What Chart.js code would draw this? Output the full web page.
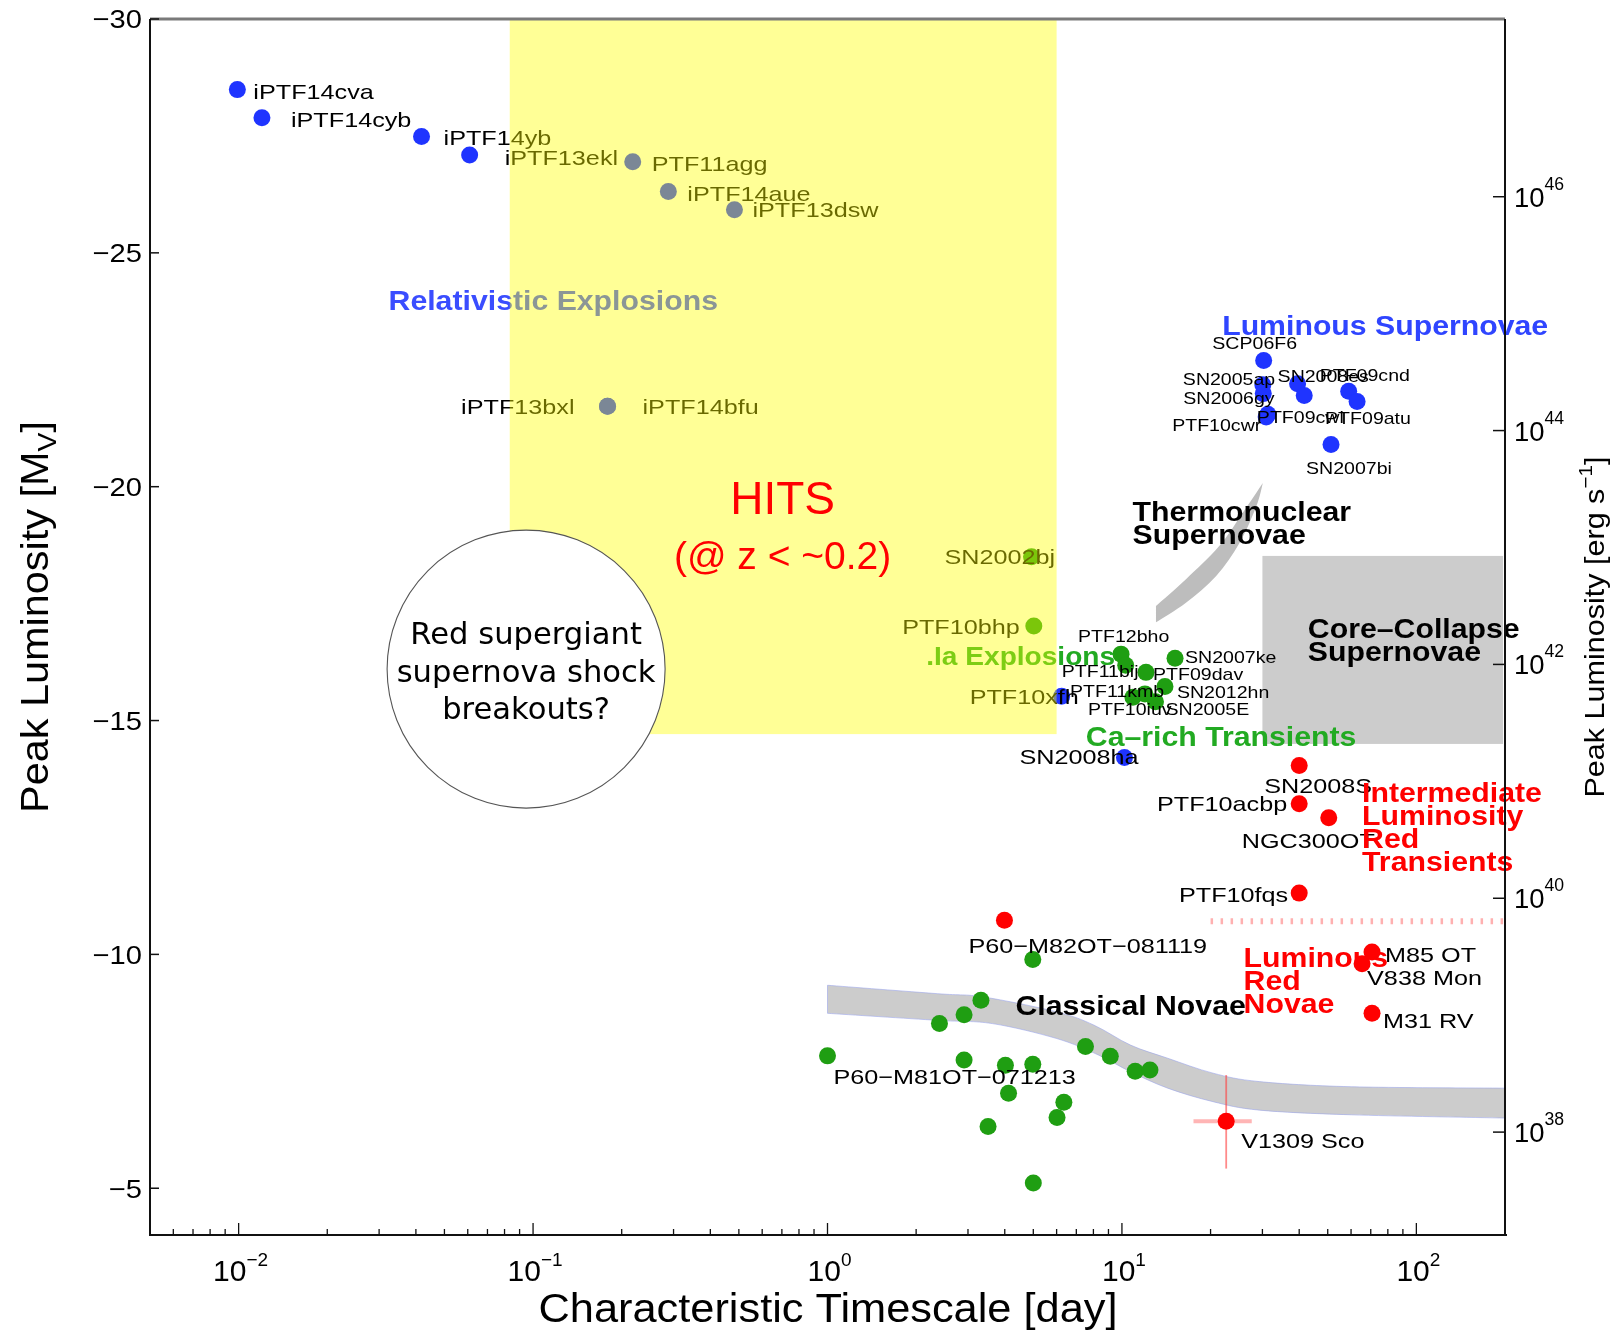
<!DOCTYPE html>
<html>
<head>
<meta charset="utf-8">
<title>Transient phase space</title>
<script src="https://cdn.jsdelivr.net/npm/chart.js@4.4.1/dist/chart.umd.min.js"></script>
<style>
  html, body { margin: 0; padding: 0; background: #fff; }
  #wrap { width: 1624px; height: 1334px; }
</style>
</head>
<body>
<div id="wrap"><canvas id="c" width="1624" height="1334"></canvas></div>
<script>
// ---------------- data: characteristic timescale [day] and peak M_V ----------------
const relNames = ['iPTF14cva', 'iPTF14cyb', 'iPTF14yb', 'iPTF13ekl', 'PTF11agg', 'iPTF14aue', 'iPTF13dsw', 'iPTF13bxl', 'iPTF14bfu'];
const relTime  = [0.0099, 0.0120, 0.0418, 0.0609, 0.218, 0.288, 0.483, 0.179, 0.179];
const relMag   = [-28.49, -27.89, -27.49, -27.09, -26.95, -26.31, -25.92, -21.72, -21.72];

const slsnNames = ['SCP06F6', 'SN2005ap', 'SN2006gy', 'PTF10cwr', 'PTF09cwl', 'SN2008es', '', 'PTF09cnd', 'PTF09atu', 'SN2007bi'];
const slsnTime  = [30.3, 30.1, 30.2, 30.9, 31.3, 39.5, 41.6, 58.9, 62.9, 51.3];
const slsnMag   = [-22.70, -22.18, -21.99, -21.49, -21.55, -22.20, -21.95, -22.04, -21.82, -20.90];

const fastBlueNames = ['PTF10xfh', 'SN2008ha'];
const fastBlueTime  = [6.24, 10.2];
const fastBlueMag   = [-15.52, -14.21];

const fastGreenNames = ['SN2002bj', 'PTF10bhp'];
const fastGreenTime  = [4.93, 5.02];
const fastGreenMag   = [-18.50, -17.02];

const caNames = ['PTF12bho', 'PTF11bij', 'PTF09dav', 'SN2007ke', 'SN2012hn', 'PTF11kmb', 'PTF10iuv', 'SN2005E'];
const caTime  = [9.93, 10.3, 12.07, 15.15, 14.0, 10.9, 11.97, 13.0];
const caMag   = [-16.42, -16.18, -16.03, -16.33, -15.73, -15.50, -15.57, -15.40];

const novaNames = ['', '', '', '', 'P60−M81OT−071213', '', '', '', '', '', '', '', '', '', '', '', ''];
const novaTime  = [4.98, 3.32, 2.91, 2.40, 1.00, 2.91, 4.02, 4.98, 7.52, 9.13, 11.09, 12.45, 4.12, 6.35, 6.02, 3.51, 5.00];
const novaMag   = [-9.89, -9.02, -8.71, -8.52, -7.83, -7.74, -7.63, -7.65, -8.03, -7.82, -7.50, -7.53, -7.03, -6.84, -6.51, -6.32, -5.11];

const redNames = ['SN2008S', 'PTF10acbp', 'NGC300OT', 'PTF10fqs', 'P60−M82OT−081119', 'M85 OT', 'V838 Mon', 'M31 RV', 'V1309 Sco'];
const redTime  = [40.0, 40.0, 50.4, 40.0, 3.99, 70.7, 65.4, 70.7, 22.6];
const redMag   = [-14.04, -13.22, -12.92, -11.31, -10.73, -10.05, -9.80, -8.74, -6.43];

// V1309 Sco uncertainty ranges
const v1309TimeRange = [17.5, 27.6];
const v1309MagRange  = [-7.42, -5.42];

// class regions
const hitsTime = [2 / 24, 6];
const hitsMag  = [-30, -14.71];
const ccTime   = [30, 197];
const ccMag    = [-18.52, -14.50];
const thermoUpper = [[13.05, -17.45], [16.5, -18.02], [21.4, -18.73], [25.7, -19.44], [30.1, -20.08]];
const thermoLower = [[30.1, -20.08], [28.6, -19.58], [25.1, -18.80], [20.9, -18.09], [16.5, -17.52], [13.05, -17.10]];
const novaUpper = [[1.0, -9.34], [2.36, -9.16], [3.38, -9.09], [6.01, -8.77], [8.02, -8.49], [10.7, -8.06], [14.3, -7.78], [20.4, -7.46], [29.3, -7.28], [60.1, -7.17], [200, -7.14]];
const novaLower = [[1.0, -8.74], [2.36, -8.59], [3.63, -8.52], [6.01, -8.20], [8.31, -7.85], [10.7, -7.49], [14.3, -7.14], [20.4, -6.85], [29.3, -6.67], [60.1, -6.57], [200, -6.50]];
const ilrtFloorTime = [20, 200];
const ilrtFloorMag  = -10.71;
const breakoutCentre = [0.0947, -16.10];

// axes
const timeMin = 0.005, timeMax = 200;
const magTop = -30, magBottom = -4;
const magTicks = [-30, -25, -20, -15, -10, -5];
const timeTickExps = [-2, -1, 0, 1, 2];
const lumTicks = [38, 40, 42, 44, 46];
const LOGL_AT_M0 = 35.52;          // log10 L [erg/s] for M_V = 0

// ---------------- styling ----------------
const SANS = '"Liberation Sans", Arial, Helvetica, sans-serif';
const BLUE = '#1f34ff', GREEN = '#1f9e12', RED = '#ff0000';

// label placement relative to each point: [dx, dy, align]
const labelPos = {
  'iPTF14cva': [16, 2, 'left'], 'iPTF14cyb': [29, 2, 'left'], 'iPTF14yb': [22, 1, 'left'],
  'iPTF13ekl': [35, 2, 'left'], 'PTF11agg': [19, 2, 'left'], 'iPTF14aue': [19, 2, 'left'],
  'iPTF13dsw': [18, 0, 'left'], 'iPTF13bxl': [-33, 0, 'right'], 'iPTF14bfu': [35, 0, 'left'],
  'SCP06F6': [-9, -18, 'center'], 'SN2005ap': [-80, -6, 'left'], 'SN2006gy': [-80, 4, 'left'],
  'PTF10cwr': [-94, 8, 'left'], 'PTF09cwl': [-11, 3, 'left'], 'SN2008es': [-20, -8, 'left'],
  'PTF09cnd': [-29, -16, 'left'], 'PTF09atu': [-32, 16, 'left'], 'SN2007bi': [18, 23, 'center'],
  'PTF10xfh': [-92, 0, 'left'], 'SN2008ha': [-105, -1, 'left'],
  'SN2002bj': [-87, 0, 'left'], 'PTF10bhp': [-14, 0, 'right'],
  'PTF12bho': [-43, -18, 'left'], 'PTF11bij': [-64, 6, 'left'], 'PTF09dav': [7, 2, 'left'],
  'SN2007ke': [10, -1, 'left'], 'SN2012hn': [12, 5, 'left'], 'PTF11kmb': [-63, -6, 'left'],
  'PTF10iuv': [-57, 15, 'left'], 'SN2005E': [10, 7, 'left'],
  'SN2008S': [-35, 20, 'left'], 'PTF10acbp': [-12, 0, 'right'], 'NGC300OT': [-87, 23, 'left'],
  'PTF10fqs': [-11, 1, 'right'], 'P60−M82OT−081119': [-36, 25, 'left'], 'M85 OT': [13, 2, 'left'],
  'V838 Mon': [5, 14, 'left'], 'M31 RV': [11, 7, 'left'], 'V1309 Sco': [15, 19, 'left'],
  'P60−M81OT−071213': [6, 21, 'left']
};

const groups = [
  { names: relNames, time: relTime, mag: relMag, color: BLUE, small: false },
  { names: slsnNames, time: slsnTime, mag: slsnMag, color: BLUE, small: true },
  { names: fastBlueNames, time: fastBlueTime, mag: fastBlueMag, color: BLUE, small: false },
  { names: fastGreenNames, time: fastGreenTime, mag: fastGreenMag, color: GREEN, small: false },
  { names: caNames, time: caTime, mag: caMag, color: GREEN, small: true },
  { names: novaNames, time: novaTime, mag: novaMag, color: GREEN, small: false },
  { names: redNames, time: redTime, mag: redMag, color: RED, small: false }
];

const regionText = [
  { lines: ['Relativistic Explosions'], t: 0.0323, m: -24.0, color: '#3a4dff', size: 28 },
  { lines: ['Luminous Supernovae'], t: 21.9, m: -23.46, color: '#2f45ff', size: 28 },
  { lines: ['Thermonuclear', 'Supernovae'], t: 10.87, m: -19.48, color: '#000', size: 28 },
  { lines: ['Core–Collapse', 'Supernovae'], t: 42.8, m: -16.99, color: '#000', size: 28 },
  { lines: ['.Ia Explosions'], t: 2.165, m: -16.38, color: '#22aa22', size: 26 },
  { lines: ['Ca–rich Transients'], t: 7.54, m: -14.67, color: '#22aa22', size: 28 },
  { lines: ['Intermediate', 'Luminosity', 'Red', 'Transients'], t: 65.4, m: -13.47, color: RED, size: 28 },
  { lines: ['Luminous', 'Red', 'Novae'], t: 25.9, m: -9.95, color: RED, size: 28 },
  { lines: ['Classical Novae'], t: 4.35, m: -8.91, color: '#000', size: 28 }
];

// ---------------- text helpers ----------------
function drawRich(ctx, segs, x, y, opt) {
  ctx.save();
  const fam = opt.family || SANS;
  const weight = opt.bold ? 'bold ' : '';
  const ws = [];
  let W = 0;
  for (const g of segs) {
    ctx.font = weight + g.size + 'px ' + fam;
    const w = ctx.measureText(g.s).width;
    ws.push(w); W += w;
  }
  const sx = opt.width ? opt.width / W : (opt.sx || 1);
  ctx.translate(x, y);
  if (opt.rot) ctx.rotate(opt.rot);
  ctx.scale(sx, 1);
  let cx = opt.align === 'center' ? -W / 2 : (opt.align === 'right' ? -W : 0);
  ctx.fillStyle = opt.color || '#000';
  ctx.textAlign = 'left';
  ctx.textBaseline = 'alphabetic';
  segs.forEach((g, i) => {
    ctx.font = weight + g.size + 'px ' + fam;
    ctx.fillText(g.s, cx, g.dy || 0);
    cx += ws[i];
  });
  ctx.restore();
}
// y is the visual centre of the capitals
function drawText(ctx, s, x, y, opt) {
  drawRich(ctx, [{ s: s, size: opt.size }], x, y + 0.36 * opt.size, opt);
}

function smoothTo(ctx, pts, start) {
  if (start) ctx.moveTo(pts[0][0], pts[0][1]); else ctx.lineTo(pts[0][0], pts[0][1]);
  for (let i = 0; i < pts.length - 1; i++) {
    const p0 = pts[i - 1] || pts[i], p1 = pts[i], p2 = pts[i + 1], p3 = pts[i + 2] || p2;
    ctx.bezierCurveTo(p1[0] + (p2[0] - p0[0]) / 6, p1[1] + (p2[1] - p0[1]) / 6,
                      p2[0] - (p3[0] - p1[0]) / 6, p2[1] - (p3[1] - p1[1]) / 6, p2[0], p2[1]);
  }
}

// ---------------- decorations drawn around the scatter ----------------
const decor = {
  id: 'decor',
  beforeDatasetsDraw(chart) {
    const { ctx, scales: { x, y } } = chart;
    const P = (d) => [x.getPixelForValue(d[0]), y.getPixelForValue(d[1])];
    ctx.save();
    // core-collapse region
    const c0 = P([ccTime[0], ccMag[0]]), c1 = P([ccTime[1], ccMag[1]]);
    ctx.fillStyle = '#cccccc';
    ctx.fillRect(c0[0], c0[1], c1[0] - c0[0], c1[1] - c0[1]);
    // thermonuclear track
    ctx.beginPath();
    smoothTo(ctx, thermoUpper.map(P), true);
    smoothTo(ctx, thermoLower.map(P), false);
    ctx.closePath();
    ctx.fillStyle = '#bdbdbd';
    ctx.fill();
    // classical novae track
    ctx.beginPath();
    smoothTo(ctx, novaUpper.map(P), true);
    smoothTo(ctx, novaLower.slice().reverse().map(P), false);
    ctx.closePath();
    ctx.fillStyle = '#cccccc';
    ctx.fill();
    ctx.strokeStyle = 'rgba(150,160,235,0.55)';
    ctx.lineWidth = 1;
    ctx.stroke();
    // ILRT lower bound
    const l0 = P([ilrtFloorTime[0], ilrtFloorMag]), l1 = P([ilrtFloorTime[1], ilrtFloorMag]);
    ctx.beginPath();
    ctx.setLineDash([2.5, 7.5]);
    ctx.strokeStyle = '#ffb0b0';
    ctx.lineWidth = 6;
    ctx.moveTo(l0[0], l0[1]); ctx.lineTo(l1[0], l1[1]);
    ctx.stroke();
    ctx.setLineDash([]);
    // V1309 Sco uncertainties
    const vi = redNames.indexOf('V1309 Sco');
    const h0 = P([v1309TimeRange[0], redMag[vi]]), h1 = P([v1309TimeRange[1], redMag[vi]]);
    const v0 = P([redTime[vi], v1309MagRange[0]]), v1 = P([redTime[vi], v1309MagRange[1]]);
    ctx.strokeStyle = 'rgba(255,120,120,0.55)';
    ctx.lineWidth = 4;
    ctx.beginPath(); ctx.moveTo(h0[0], h0[1]); ctx.lineTo(h1[0], h1[1]); ctx.stroke();
    ctx.strokeStyle = 'rgba(255,60,60,0.6)';
    ctx.lineWidth = 1.8;
    ctx.beginPath(); ctx.moveTo(v0[0], v0[1]); ctx.lineTo(v1[0], v1[1]); ctx.stroke();
    ctx.restore();
  },
  afterDatasetsDraw(chart) {
    const { ctx, chartArea: a, scales: { x, y, yL } } = chart;
    ctx.save();
    // object names
    for (const g of groups) {
      g.names.forEach((n, i) => {
        if (!n || !labelPos[n]) return;
        const [dx, dy, al] = labelPos[n];
        const px = x.getPixelForValue(g.time[i]), py = y.getPixelForValue(g.mag[i]);
        const sz = g.small ? 17 : 21;
        drawText(ctx, n, px + dx, py + dy, { size: sz, sx: g.small ? 1.15 : 1.2, align: al, color: '#000' });
      });
    }
    // class names
    for (const r of regionText) {
      const px = x.getPixelForValue(r.t), py = y.getPixelForValue(r.m);
      r.lines.forEach((s, k) => drawText(ctx, s, px, py + k * 23, { size: r.size, bold: true, sx: 1.08, color: r.color }));
    }
    // HiTS search window
    const hx0 = x.getPixelForValue(hitsTime[0]), hx1 = x.getPixelForValue(hitsTime[1]);
    const hy0 = y.getPixelForValue(hitsMag[0]), hy1 = y.getPixelForValue(hitsMag[1]);
    ctx.fillStyle = 'rgba(255,255,0,0.41)';
    ctx.fillRect(hx0, hy0, hx1 - hx0, hy1 - hy0);
    const hcx = x.getPixelForValue(0.704);
    drawText(ctx, 'HITS', hcx, y.getPixelForValue(-19.76), { size: 46, align: 'center', color: RED });
    drawText(ctx, '(@ z < ~0.2)', hcx, y.getPixelForValue(-18.55), { size: 39, align: 'center', color: RED });
    // shock breakout bubble
    const bx = x.getPixelForValue(breakoutCentre[0]), by = y.getPixelForValue(breakoutCentre[1]);
    ctx.beginPath();
    ctx.arc(bx, by, 139, 0, Math.PI * 2);
    ctx.fillStyle = '#fff';
    ctx.fill();
    ctx.strokeStyle = '#555';
    ctx.lineWidth = 1.1;
    ctx.stroke();
    const bf = '"DejaVu Sans", Verdana, sans-serif';
    drawText(ctx, 'Red supergiant', bx, by - 35.5, { size: 30, align: 'center', family: bf, sx: 1.02 });
    drawText(ctx, 'supernova shock', bx, by + 2, { size: 30, align: 'center', family: bf, sx: 1.02 });
    drawText(ctx, 'breakouts?', bx, by + 39.5, { size: 30, align: 'center', family: bf, sx: 1.02 });

    // frame
    ctx.lineCap = 'butt';
    ctx.strokeStyle = '#7a7a7a'; ctx.lineWidth = 3;
    ctx.beginPath(); ctx.moveTo(a.left, a.top); ctx.lineTo(a.right, a.top); ctx.stroke();
    ctx.strokeStyle = '#111'; ctx.lineWidth = 2;
    ctx.beginPath();
    ctx.moveTo(a.left, a.top); ctx.lineTo(a.left, a.bottom); ctx.lineTo(a.right + 2, a.bottom);
    ctx.moveTo(a.right, a.top); ctx.lineTo(a.right, a.bottom);
    ctx.stroke();

    // left axis: magnitudes
    ctx.lineWidth = 1.5;
    for (const m of magTicks) {
      const py = y.getPixelForValue(m);
      ctx.beginPath(); ctx.moveTo(a.left, py); ctx.lineTo(a.left + 9, py); ctx.stroke();
      drawText(ctx, '−' + Math.abs(m), a.left - 8, py, { size: 26, sx: 1.12, align: 'right' });
    }
    // bottom axis: log timescale
    for (let n = -3; n <= 2; n++) {
      for (let k = 1; k <= 9; k++) {
        const v = k * Math.pow(10, n);
        if (v <= timeMin || v >= timeMax) continue;
        const px = x.getPixelForValue(v);
        ctx.lineWidth = 1.3;
        ctx.beginPath(); ctx.moveTo(px, a.bottom); ctx.lineTo(px, a.bottom - (k === 1 ? 12 : 6)); ctx.stroke();
      }
    }
    for (const e of timeTickExps) {
      const px = x.getPixelForValue(Math.pow(10, e));
      const es = e < 0 ? '−' + Math.abs(e) : String(e);
      drawRich(ctx, [{ s: '10', size: 30 }, { s: es, size: 19, dy: -15 }], px + 2, a.bottom + 46, { align: 'center', sx: 1.0 });
    }
    // right axis: luminosity
    for (const L of lumTicks) {
      const py = yL.getPixelForValue(L);
      ctx.lineWidth = 1.5;
      ctx.beginPath(); ctx.moveTo(a.right - 12, py); ctx.lineTo(a.right, py); ctx.stroke();
      drawRich(ctx, [{ s: '10', size: 28 }, { s: String(L), size: 18, dy: -17 }], a.right + 9, py + 10, { align: 'left', sx: 0.98 });
    }
    // axis titles
    drawRich(ctx, [{ s: 'Characteristic Timescale [day]', size: 40 }], 828, a.bottom + 87, { align: 'center', width: 579 });
    drawRich(ctx, [{ s: 'Peak Luminosity [M', size: 38 }, { s: 'V', size: 26, dy: 8 }, { s: ']', size: 38 }], 48, 617, { align: 'center', width: 392, rot: -Math.PI / 2 });
    drawRich(ctx, [{ s: 'Peak Luminosity [erg s', size: 28 }, { s: '−1', size: 19, dy: -12 }, { s: ']', size: 28 }], 1604, 627, { align: 'center', width: 341, rot: -Math.PI / 2 });
    ctx.restore();
  }
};

// ---------------- chart ----------------
const mkSet = (g) => ({
  data: g.time.map((t, i) => ({ x: t, y: g.mag[i] })),
  backgroundColor: g.color,
  borderColor: g.color,
  borderWidth: 0,
  pointRadius: 8.5,
  pointHoverRadius: 8.5
});

new Chart(document.getElementById('c').getContext('2d'), {
  type: 'scatter',
  data: { datasets: groups.map(mkSet) },
  options: {
    responsive: false,
    animation: false,
    devicePixelRatio: 1,
    layout: { padding: { top: 19, left: 0, right: 0, bottom: 0 } },
    plugins: { legend: { display: false }, tooltip: { enabled: false } },
    scales: {
      x: {
        type: 'logarithmic', min: timeMin, max: timeMax, position: 'bottom',
        grid: { display: false }, border: { display: false }, ticks: { display: false },
        afterFit(s) { s.height = 99; }
      },
      y: {
        type: 'linear', reverse: true, min: magTop, max: magBottom, position: 'left',
        grid: { display: false }, border: { display: false }, ticks: { display: false },
        afterFit(s) { s.width = 150; }
      },
      yL: {
        type: 'linear', position: 'right',
        min: LOGL_AT_M0 - 0.4 * magBottom, max: LOGL_AT_M0 - 0.4 * magTop,
        grid: { display: false }, border: { display: false }, ticks: { display: false },
        afterBuildTicks(s) { s.ticks = lumTicks.map(v => ({ value: v })); },
        afterFit(s) { s.width = 119; }
      }
    }
  },
  plugins: [decor]
});
</script>
</body>
</html>
